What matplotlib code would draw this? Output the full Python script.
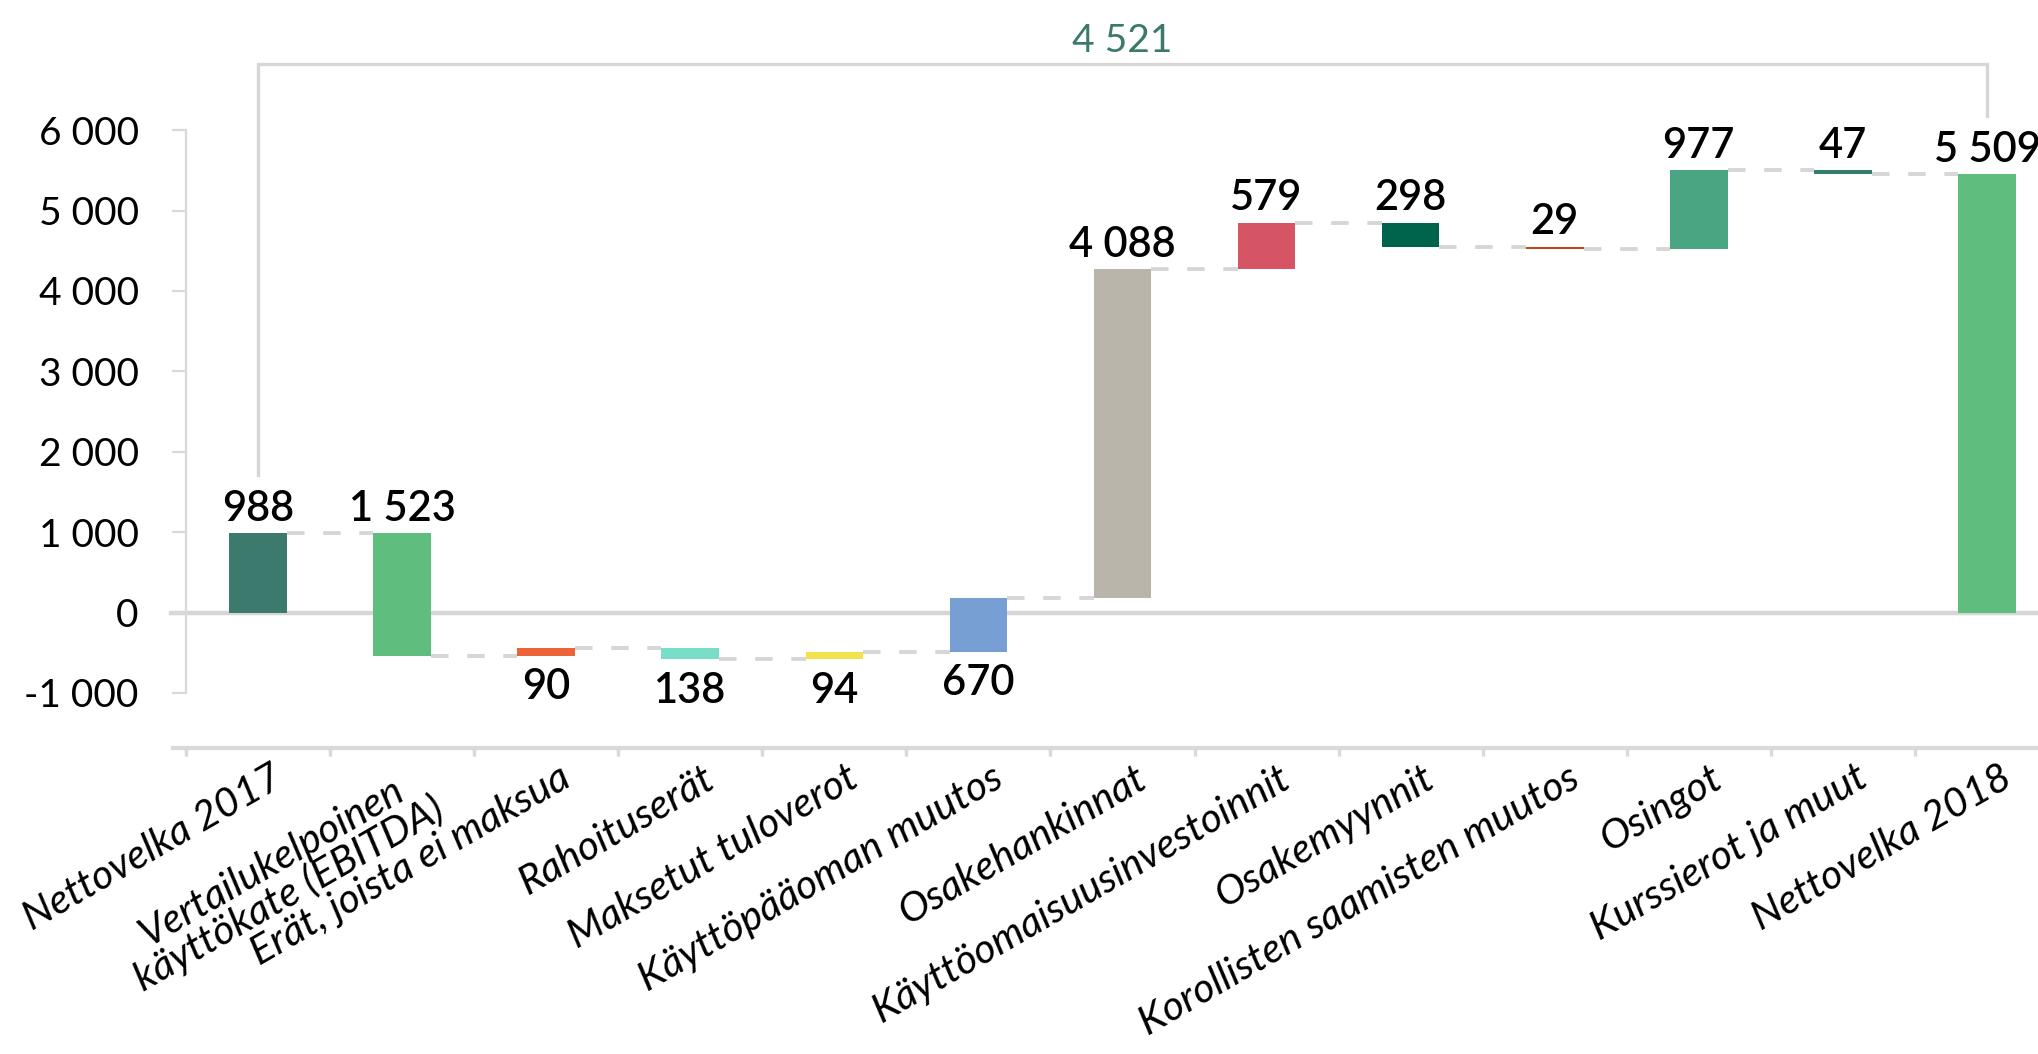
import matplotlib
matplotlib.use("Agg")
import matplotlib.pyplot as plt
import numpy as np
from matplotlib.ticker import FixedLocator, FuncFormatter, NullFormatter
from matplotlib.transforms import ScaledTranslation

# ---------------- data ----------------
categories = [
    "Nettovelka 2017",
    "Vertailukelpoinen\nkäyttökate (EBITDA)",
    "Erät, joista ei maksua",
    "Rahoituserät",
    "Maksetut tuloverot",
    "Käyttöpääoman muutos",
    "Osakehankinnat",
    "Käyttöomaisuusinvestoinnit",
    "Osakemyynnit",
    "Korollisten saamisten muutos",
    "Osingot",
    "Kurssierot ja muut",
    "Nettovelka 2018",
]
start_value = 988
changes = [-1523, 90, -138, 94, 670, 4088, 579, -298, -29, 977, -47]
end_value = 5509
label_below = [False, False, True, True, True, True, False, False, False, False, False, False, False]
colors = ["#3b7a6c", "#5fbe7e", "#ea6438", "#78dec8", "#f2e24c", "#789fd3",
          "#b9b5aa", "#d65565", "#00634c", "#c0461e", "#4aa582", "#347d6c", "#5fbe7e"]
yticks = [-1000, 0, 1000, 2000, 3000, 4000, 5000, 6000]

# ---------------- derived ----------------
levels = start_value + np.concatenate([[0], np.cumsum(changes)])
n = len(categories)
x = np.arange(n)
bottoms = np.concatenate([[0], levels[:-1], [0]])
heights = np.concatenate([[start_value], changes, [levels[-1]]])
label_values = [start_value] + [abs(c) for c in changes] + [end_value]
diff_value = end_value - start_value


def fmt(v):
    s = f"{abs(v):,.0f}".replace(",", " ")
    return ("-" if v < 0 else "") + s


plt.rcParams["font.family"] = ["Lato", "DejaVu Sans"]

W, H = 2038, 1054
fig = plt.figure(figsize=(W / 100, H / 100), dpi=100)
ax = fig.add_axes([0, 0, 1, 1])
ax.patch.set_alpha(0)

px_per_cat = 144.08
px_per_unit = 80.4 / 1000
x0_px = 258
y0_px_from_top = 612.5
ax.set_xlim(-x0_px / px_per_cat, (W - x0_px) / px_per_cat)
ax.set_ylim(-(H - y0_px_from_top) / px_per_unit, y0_px_from_top / px_per_unit)

grey = "#d6d6d6"
axis_grey = "#d9d9d9"

# zero line
ax.axhline(0, xmin=171 / W, xmax=1, color=grey, lw=3.2, zorder=1)

# bars
bar_w = 0.40
ax.bar(x, heights, bottom=bottoms, width=bar_w, color=colors, zorder=3)

# connectors
for i in range(n - 1):
    ax.plot([x[i] + bar_w / 2, x[i + 1] - bar_w / 2], [levels[min(i, len(levels) - 1)]] * 2,
            color=grey, lw=2.8, linestyle=(0, (4.5, 4.8)), zorder=2,
            solid_capstyle="butt", dash_capstyle="butt")

# value labels
for i in range(n):
    top = max(bottoms[i], bottoms[i] + heights[i])
    bot = min(bottoms[i], bottoms[i] + heights[i])
    if label_below[i]:
        ax.annotate(fmt(label_values[i]), (x[i], bot), xytext=(0, -9), textcoords="offset points",
                    ha="center", va="top", fontsize=30, fontweight="semibold", color="black",
                    zorder=5)
    else:
        ax.annotate(fmt(label_values[i]), (x[i], top), xytext=(0, 9), textcoords="offset points",
                    ha="center", va="baseline", fontsize=30, fontweight="semibold", color="black",
                    zorder=5, annotation_clip=False)

# bracket with difference
bracket_y = 6820
leg_gap = 725
ax.plot([x[0], x[0], x[-1], x[-1]],
        [start_value + leg_gap, bracket_y, bracket_y, levels[-1] + leg_gap],
        color=grey, lw=2.4, zorder=2, solid_joinstyle="miter")
ax.annotate(fmt(diff_value), ((x[0] + x[-1]) / 2, bracket_y), xytext=(0, 9),
            textcoords="offset points", ha="center", va="baseline", fontsize=28,
            color="#3b7a6b")

# spines
for s in ["top", "right"]:
    ax.spines[s].set_visible(False)
ax.spines["left"].set_position(("data", -0.5))
ax.spines["left"].set_bounds(yticks[0], yticks[-1])
ax.spines["left"].set_color(axis_grey)
ax.spines["left"].set_linewidth(1.6)
ax.spines["bottom"].set_position(("data", -1685))
ax.spines["bottom"].set_bounds(-0.59, ax.get_xlim()[1])
ax.spines["bottom"].set_color(axis_grey)
ax.spines["bottom"].set_linewidth(3)

ax.yaxis.set_major_locator(FixedLocator(yticks))
ax.yaxis.set_major_formatter(FuncFormatter(lambda v, p: fmt(v)))
ax.tick_params(axis="y", direction="out", length=10, width=1.6, color=axis_grey,
               labelsize=28, pad=24, labelcolor="black")

ax.xaxis.set_major_locator(FixedLocator(x))
ax.set_xticklabels(categories)
ax.xaxis.set_minor_locator(FixedLocator(np.arange(n) - 0.5))
ax.xaxis.set_minor_formatter(NullFormatter())
ax.tick_params(axis="x", which="major", length=0, pad=8)
ax.tick_params(axis="x", which="minor", direction="out", length=6, width=2.4, color=axis_grey)

offset = ScaledTranslation(0.12, 0, fig.dpi_scale_trans)
for lab in ax.get_xticklabels():
    lab.set_rotation(30)
    lab.set_ha("right")
    lab.set_va("top")
    lab.set_rotation_mode("anchor")
    lab.set_multialignment("center")
    lab.set_fontsize(29.5)
    lab.set_fontstyle("italic")
    lab.set_linespacing(0.92)
    lab.set_transform(lab.get_transform() + offset)

fig.savefig("out.png", dpi=100)
